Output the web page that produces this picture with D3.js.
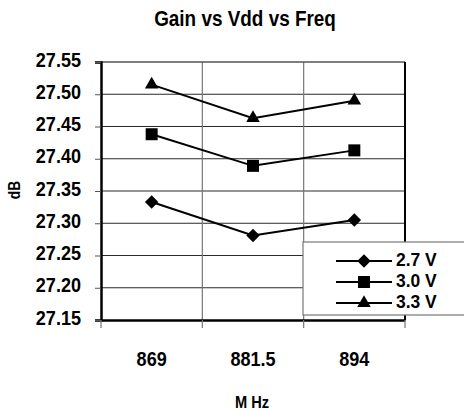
<!DOCTYPE html>
<html><head><meta charset="utf-8">
<script src="https://cdn.jsdelivr.net/npm/d3@7"></script>
<style>
body{margin:0;background:#fff;}
text{font-family:"Liberation Sans Narrow","Liberation Sans",Arial,sans-serif;font-weight:bold;fill:#000;}
</style></head>
<body><svg id="c" width="464" height="411"></svg>
<script>
const categories = ["869", "881.5", "894"];
const seriesNames = ["2.7 V", "3.0 V", "3.3 V"];
const v27 = [27.333, 27.281, 27.305];
const v30 = [27.438, 27.389, 27.413];
const v33 = [27.515, 27.463, 27.490];
const yTicks = [27.15, 27.20, 27.25, 27.30, 27.35, 27.40, 27.45, 27.50, 27.55];
const series = [v27, v30, v33];

const SX = 0.86;
function narrow(sel, sx) {
  sel.each(function () {
    const t = d3.select(this);
    const x = +t.attr("x") || 0, y = +t.attr("y") || 0;
    t.attr("x", 0).attr("y", 0).attr("transform", `translate(${x},${y}) scale(${sx || SX},1)`);
  });
}
const symDefs = [
  { type: d3.symbolSquare, size: 90, rot: 45 },
  { type: d3.symbolSquare, size: 144, rot: 0 },
  { type: d3.symbolTriangle, size: 80, rot: 0 }
];

const svg = d3.select("#c");
const L = 101, R = 405, T = 62, B = 320;
const x = d3.scaleBand().domain(categories).range([L, R]);
const y = d3.scaleLinear().domain([27.15, 27.55]).range([B, T]);

// gridlines
svg.append("g").selectAll("line").data(yTicks.slice(1, -1)).join("line")
  .attr("x1", L).attr("x2", R).attr("y1", d => y(d)).attr("y2", d => y(d))
  .attr("stroke", "#2a2a2a").attr("stroke-width", 1.2);
svg.append("g").selectAll("line").data(categories.slice(1)).join("line")
  .attr("x1", d => x(d)).attr("x2", d => x(d)).attr("y1", T).attr("y2", B)
  .attr("stroke", "#777").attr("stroke-width", 1.2);
svg.append("line").attr("x1", L).attr("x2", R).attr("y1", T).attr("y2", T).attr("stroke", "#555").attr("stroke-width", 1.5);
svg.append("line").attr("x1", R).attr("x2", R).attr("y1", T).attr("y2", B).attr("stroke", "#000").attr("stroke-width", 2);

// y axis
const ya = svg.append("g").attr("transform", `translate(${L},0)`)
  .call(d3.axisLeft(y).tickValues(yTicks).tickFormat(d3.format(".2f")).tickSize(6).tickPadding(14));
ya.select(".domain").attr("stroke-width", 2.5);
ya.selectAll(".tick line").attr("stroke", "#555");
ya.selectAll("text").style("font-size", "21px").attr("dy", "4px");
narrow(ya.selectAll("text"));

// x axis
const xa = svg.append("g").attr("transform", `translate(0,${B})`)
  .call(d3.axisBottom(x).tickSize(0).tickPadding(46));
xa.select(".domain").attr("stroke-width", 2.5);
xa.selectAll("text").style("font-size", "21px").attr("dy", "0");
narrow(xa.selectAll("text"));
svg.append("g").selectAll("line").data([L, ...categories.slice(1).map(c => x(c)), R]).join("line")
  .attr("x1", d => d).attr("x2", d => d).attr("y1", B).attr("y2", B + 8).attr("stroke", "#777").attr("stroke-width", 1.2);

// lines + markers
const cx = i => x(categories[i]) + x.bandwidth() / 2;
const line = d3.line().x((d, i) => cx(i)).y(d => y(d));
series.forEach((s, k) => {
  svg.append("path").datum(s).attr("d", line).attr("fill", "none").attr("stroke", "#000").attr("stroke-width", 2);
  svg.append("g").selectAll("path").data(s).join("path")
    .attr("transform", (d, i) => `translate(${cx(i)},${y(d)}) rotate(${symDefs[k].rot})`)
    .attr("d", d3.symbol().type(symDefs[k].type).size(symDefs[k].size))
    .attr("fill", "#000");
});

// legend
const lg = svg.append("g");
lg.append("rect").attr("x", 303).attr("y", 242).attr("width", 170).attr("height", 73)
  .attr("fill", "#fff").attr("stroke", "#777").attr("stroke-width", 1.2);
seriesNames.forEach((n, k) => {
  const yy = 261 + k * 21;
  lg.append("line").attr("x1", 336).attr("x2", 392).attr("y1", yy).attr("y2", yy).attr("stroke", "#000").attr("stroke-width", 2);
  lg.append("path").attr("transform", `translate(364,${yy}) rotate(${symDefs[k].rot})`)
    .attr("d", d3.symbol().type(symDefs[k].type).size(symDefs[k].size)).attr("fill", "#000");
  const t = lg.append("text").attr("x", 396).attr("y", yy + 4.5).style("font-size", "18px").text(n);
  narrow(t, 0.97);
});

// titles
const tt = svg.append("text").attr("x", 245).attr("y", 26).attr("text-anchor", "middle").style("font-size", "22px").text("Gain vs Vdd vs Freq");
narrow(tt);
const xt = svg.append("text").attr("x", 252).attr("y", 408).attr("text-anchor", "middle").style("font-size", "17px").text("M Hz");
narrow(xt);
svg.append("text").attr("transform", `translate(20,190) rotate(-90) scale(${SX},1)`).attr("text-anchor", "middle").style("font-size", "16px").text("dB");
</script></body></html>
